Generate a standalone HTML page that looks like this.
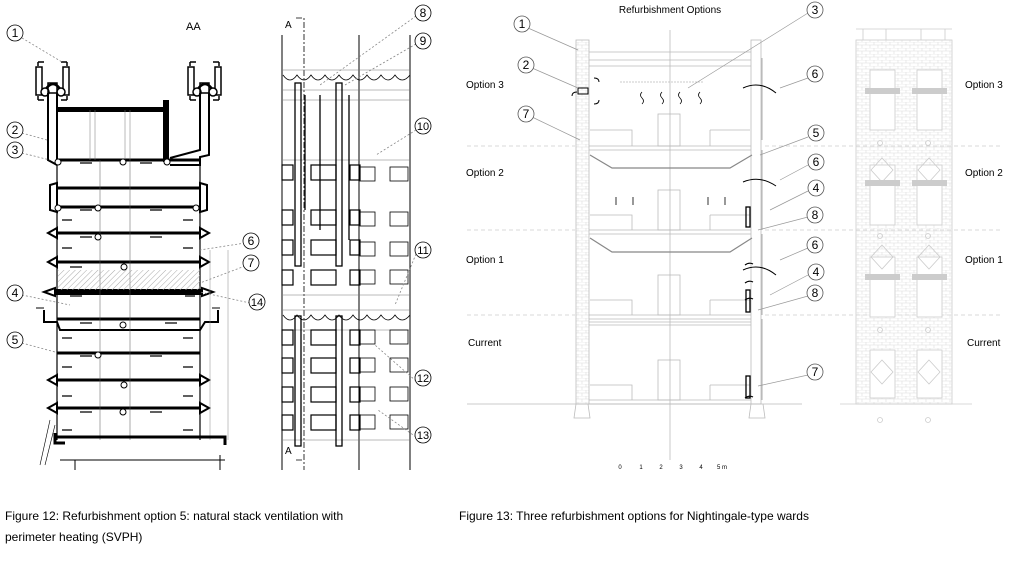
<!DOCTYPE html>
<html><head><meta charset="utf-8"><style>
html,body{margin:0;padding:0;background:#fff;width:1020px;height:581px;overflow:hidden}
svg{display:block}
text{font-family:"Liberation Sans",sans-serif}
</style></head><body>
<svg width="1020" height="581" viewBox="0 0 1020 581" xmlns="http://www.w3.org/2000/svg">
<defs>
<pattern id="hatch" width="4" height="4" patternUnits="userSpaceOnUse" patternTransform="rotate(45)"><line x1="0" y1="0" x2="0" y2="4" stroke="#aaa" stroke-width="1"/></pattern>
<pattern id="brick" width="8" height="6" patternUnits="userSpaceOnUse"><path d="M0 0H8M0 3H8M2 0V3M6 3V6" stroke="#ddd" stroke-width="0.6" fill="none"/></pattern>
</defs>

<!-- ============ FIGURE 12 LEFT SECTION ============ -->
<text x="186" y="30" font-size="11">AA</text>
<g stroke="#000" fill="none">
 <!-- stack heads -->
 <g stroke-width="1.5">
  <rect x="36" y="67" width="6" height="28"/><rect x="63" y="67" width="6" height="28"/>
  <rect x="188" y="67" width="6" height="28"/><rect x="215" y="67" width="6" height="28"/>
  <path d="M38 62H44M38 62V66M61 62H67M67 62V66M38 100H44M38 96V100M61 100H67M67 96V100"/>
  <path d="M190 62H196M190 62V66M213 62H219M219 62V66M190 100H196M190 96V100M213 100H219M219 96V100"/>
 </g>
 <path d="M44 92Q53 76 62 92" stroke-width="2.5"/><path d="M196 92Q205 76 214 92" stroke-width="2.5"/>
 <circle cx="45" cy="92" r="4" stroke-width="1.5" fill="#fff"/><circle cx="61" cy="92" r="4" stroke-width="1.5" fill="#fff"/>
 <circle cx="197" cy="92" r="4" stroke-width="1.5" fill="#fff"/><circle cx="213" cy="92" r="4" stroke-width="1.5" fill="#fff"/>
 <rect x="48" y="83" width="9" height="10" stroke-width="1.5"/><rect x="200" y="83" width="9" height="10" stroke-width="1.5"/>
 <!-- pipes -->
 <path d="M48 93V160L57 165M57 93V160" stroke-width="2"/>
 <path d="M200 93V150L170 158M209 93V155L200 157V165H170" stroke-width="2"/>
 <!-- top box -->
 <rect x="57" y="108" width="110" height="52" stroke-width="1.5"/>
 <path d="M57 109.5H165" stroke-width="5"/>
 <path d="M166 100V162" stroke-width="6"/>
 <path d="M57 160H200" stroke-width="3"/>
 <path d="M90 110V160M95 110V160M125 110V160M130 110V160" stroke-width="0.5" stroke="#777"/>
 <!-- floors -->
 <g stroke-width="3">
  <path d="M57 188H200M57 207H200M57 233H200M57 262H200M57 319H200M57 353H200M57 380H200M57 408H200"/>
 </g>
 <path d="M55 292H202" stroke-width="6"/>
 <path d="M44 310V322H57L60 330H200L205 322H218V310" stroke-width="2"/>
 <path d="M36 308H44M212 308H220" stroke-width="1"/>
 <!-- end caps -->
 <g stroke-width="2" fill="#fff">
  <path d="M50 185L57 183V212L50 210Z"/><path d="M207 185L200 183V212L207 210Z"/>
  <path d="M48 233L57 228V238Z"/><path d="M209 233L200 228V238Z"/>
  <path d="M48 262L57 257V267Z"/><path d="M209 262L200 257V267Z"/>
  <path d="M44 292L55 288V296Z"/><path d="M213 292L202 288V296Z"/>
  <path d="M48 380L57 375V385Z"/><path d="M209 380L200 375V385Z"/>
  <path d="M48 408L57 403V413Z"/><path d="M209 408L200 403V413Z"/>
 </g>
 <!-- verticals -->
 <path d="M57 160V440M200 160V440" stroke-width="1.2"/>
 <path d="M100 160V440M130 160V440" stroke-width="0.5" stroke="#555"/>
 <path d="M210 250V440M228 250V440" stroke-width="0.5" stroke="#888"/>
 <!-- short dashes -->
 <g stroke-width="1.2">
  <path d="M80 163H92M140 163H152M80 210H92M150 210H162M62 220H72M183 220H193M80 237H92M150 237H162M62 248H72M183 248H193M70 267H82M70 296H82M185 296H195M80 323H92M165 323H177M62 338H72M183 338H193M80 356H92M150 356H162M62 367H72M183 367H193M80 412H92M150 412H162M62 396H72M183 396H193M62 430H72M183 430H193"/>
 </g>
 <!-- base -->
 <path d="M55 437H225V445M55 433V443H65" stroke-width="3"/>
 <path d="M60 460H225M75 460V470M220 455V470" stroke-width="1"/>
 <path d="M40 465L50 420M45 465L55 425" stroke-width="0.6"/>
 <!-- small circles -->
 <g stroke-width="1" fill="#fff">
  <circle cx="58" cy="162" r="3"/><circle cx="123" cy="162" r="3"/><circle cx="167" cy="162" r="3"/>
  <circle cx="58" cy="208" r="3"/><circle cx="98" cy="208" r="3"/><circle cx="196" cy="208" r="3"/>
  <circle cx="98" cy="237" r="3"/><circle cx="124" cy="267" r="3"/><circle cx="123" cy="325" r="3"/>
  <circle cx="98" cy="355" r="3"/><circle cx="124" cy="385" r="3"/><circle cx="123" cy="412" r="3"/>
 </g>
</g>
<rect x="58" y="270" width="142" height="20" fill="url(#hatch)"/>

<!-- ============ FIGURE 12 RIGHT ELEVATION ============ -->
<g stroke="#000" fill="none" stroke-width="1">
 <path d="M282 35V470M359 35V470M410 35V470"/>
 <path d="M296 18H304V470M296 460H304" stroke-dasharray="6 2 2 2" stroke-width="0.8"/>
 <path d="M283 70H410M283 90H410M283 100H410M283 160H410M283 295H410M283 310H410M283 330H410M283 440H410" stroke-width="0.5" stroke="#777"/>
 <g stroke-width="1.3">
  <rect x="295" y="83" width="6" height="183"/><rect x="336" y="83" width="6" height="183"/>
  <rect x="295" y="316" width="6" height="130"/><rect x="336" y="316" width="6" height="130"/>
  <path d="M305 95V210M349 95V240M320 95V230"/>
 </g>
 <g stroke-width="1.2">
  <rect x="282" y="165" width="11" height="15"/><rect x="311" y="165" width="25" height="15"/><rect x="350" y="165" width="10" height="15"/>
  <rect x="282" y="210" width="11" height="15"/><rect x="311" y="210" width="25" height="15"/><rect x="350" y="210" width="10" height="15"/>
  <rect x="282" y="240" width="11" height="15"/><rect x="311" y="240" width="25" height="15"/><rect x="350" y="240" width="10" height="15"/>
  <rect x="282" y="270" width="11" height="15"/><rect x="311" y="270" width="25" height="15"/><rect x="350" y="270" width="10" height="15"/>
  <rect x="282" y="330" width="11" height="15"/><rect x="311" y="330" width="25" height="15"/><rect x="350" y="330" width="10" height="15"/>
  <rect x="282" y="358" width="11" height="15"/><rect x="311" y="358" width="25" height="15"/><rect x="350" y="358" width="10" height="15"/>
  <rect x="282" y="387" width="11" height="15"/><rect x="311" y="387" width="25" height="15"/><rect x="350" y="387" width="10" height="15"/>
  <rect x="282" y="415" width="11" height="15"/><rect x="311" y="415" width="25" height="15"/><rect x="350" y="415" width="10" height="15"/>
 </g>
 <g stroke-width="0.8">
  <rect x="360" y="167" width="15" height="14"/><rect x="390" y="167" width="18" height="14"/>
  <rect x="360" y="212" width="15" height="14"/><rect x="390" y="212" width="18" height="14"/>
  <rect x="360" y="242" width="15" height="14"/><rect x="390" y="242" width="18" height="14"/>
  <rect x="360" y="270" width="15" height="14"/><rect x="390" y="270" width="18" height="14"/>
  <rect x="360" y="330" width="15" height="14"/><rect x="390" y="330" width="18" height="14"/>
  <rect x="360" y="358" width="15" height="14"/><rect x="390" y="358" width="18" height="14"/>
  <rect x="360" y="387" width="15" height="14"/><rect x="390" y="387" width="18" height="14"/>
  <rect x="360" y="415" width="15" height="14"/><rect x="390" y="415" width="18" height="14"/>
 </g>
 <path d="M283 75Q290 85 297 75Q304 85 311 75Q318 85 325 75Q332 85 339 75Q346 85 353 75Q360 85 367 75Q374 85 381 75Q388 85 395 75Q402 85 410 75" stroke-width="0.8"/>
 <path d="M283 315Q290 325 297 315Q304 325 311 315Q318 325 325 315Q332 325 339 315Q346 325 353 315Q360 325 367 315Q374 325 381 315Q388 325 395 315Q402 325 410 315" stroke-width="0.8"/>
</g>
<text x="285" y="28" font-size="10">A</text>
<text x="285" y="454" font-size="10">A</text>

<g stroke="#888" stroke-dasharray="2 2" stroke-width="0.8" fill="none">
 <path d="M22 38L62 62M22 133L47 140M22 153L50 160M22 295L70 305M22 343L55 352M245 243L200 250M245 266L200 283M250 303L200 292M416 16L320 85M416 44L345 85M416 130L376 155M416 254L395 305M416 381L375 345M416 437L378 410"/>
</g>
<g font-size="12" text-anchor="middle" fill="#000">
 <g fill="#fff" stroke="#000" stroke-width="0.8">
  <circle cx="15" cy="33" r="8"/><circle cx="15" cy="130" r="8"/><circle cx="15" cy="150" r="8"/><circle cx="15" cy="293" r="8"/><circle cx="15" cy="340" r="8"/>
  <circle cx="251" cy="241" r="8"/><circle cx="251" cy="263" r="8"/><circle cx="257" cy="302" r="8"/>
  <circle cx="423" cy="13" r="8"/><circle cx="423" cy="41" r="8"/><circle cx="423" cy="126" r="8"/><circle cx="423" cy="250" r="8"/><circle cx="423" cy="378" r="8"/><circle cx="423" cy="435" r="8"/>
 </g>
 <text x="15" y="37">1</text><text x="15" y="134">2</text><text x="15" y="154">3</text><text x="15" y="297">4</text><text x="15" y="344">5</text>
 <text x="251" y="245">6</text><text x="251" y="267">7</text><text x="257" y="306" font-size="11">14</text>
 <text x="423" y="17">8</text><text x="423" y="45">9</text><text x="423" y="130" font-size="11">10</text><text x="423" y="254" font-size="11">11</text><text x="423" y="382" font-size="11">12</text><text x="423" y="439" font-size="11">13</text>
</g>

<!-- ============ FIGURE 13 ============ -->
<text x="670" y="13" font-size="10" text-anchor="middle">Refurbishment Options</text>
<g font-size="10">
 <text x="466" y="88">Option 3</text><text x="466" y="176">Option 2</text><text x="466" y="263">Option 1</text><text x="468" y="346">Current</text>
 <text x="965" y="88">Option 3</text><text x="965" y="176">Option 2</text><text x="965" y="263">Option 1</text><text x="967" y="346">Current</text>
</g>
<g stroke="#ccc" stroke-dasharray="4 3" stroke-width="0.7">
 <path d="M467 146H575M765 146H1000M467 230H575M765 230H1000M467 315H575M765 315H1000"/>
</g>
<g stroke="#bbb" fill="none" stroke-width="0.8">
 <rect x="576" y="40" width="13" height="364" fill="url(#brick)"/>
 <rect x="751" y="40" width="10" height="364"/>
 <path d="M589 52H751M589 60H751M589 66H751M589 146H751M589 150H751M589 230H751M589 234H751M589 315H751M589 319H751M589 322H751M589 325H751M589 400H751M589 404H751"/>
 <path d="M467 404H802M576 404L574 418H590L588 404M751 404L749 418H765L763 404M670 30V460" />
 <rect x="658" y="114" width="22" height="32"/><rect x="658" y="190" width="22" height="40"/><rect x="658" y="275" width="22" height="40"/><rect x="658" y="360" width="22" height="40"/>
 <path d="M590 130H632V146M710 130H750M710 130V146M590 215H632V230M710 215H750M710 215V230M590 300H632V315M710 300H750M710 300V315M590 385H632V400M710 385H750M710 385V400"/>
 <path d="M590 155L612 168H730L752 155M590 238L612 252H730L752 238" stroke="#888" stroke-width="1.2"/>
 <path d="M620 82H703" stroke-dasharray="2 1"/>
 <path d="M762 58V140M762 150V230M762 234V315M762 319V400" stroke="#999"/>
</g>
<g stroke="#000" fill="none" stroke-width="1">
 <path d="M642 92q-3 3 0 6q3 3 0 6M662 92q-3 3 0 6q3 3 0 6M680 92q-3 3 0 6q3 3 0 6M700 92q-3 3 0 6q3 3 0 6" stroke-width="0.8"/>
 <rect x="578" y="88" width="10" height="6"/>
 <path d="M594 78q5 0 5 4M594 104q5 0 5-4M572 96q0-4 5-4"/>
 <path d="M743 88Q760 80 776 93M743 182Q760 175 776 186M743 270Q760 262 776 275" stroke-width="1"/>
 <path d="M616 197v8M633 197v8M708 197v8M725 197v8" stroke-width="0.8"/>
 <path d="M745 265q4-3 8-1M745 283q4-3 8-1M745 300q4-3 8-1M745 398q4-3 8-1" stroke-width="1.2"/>
</g>
<g stroke="#000" fill="none" stroke-width="1.3">
 <rect x="746" y="207" width="4" height="20"/><rect x="746" y="290" width="4" height="22"/><rect x="746" y="376" width="4" height="22"/>
</g>
<!-- elevation -->
<g stroke="#ccc" fill="none" stroke-width="0.8">
 <path d="M856 29H952M863 29V40M886 29V40M921 29V40M945 29V40"/>
 <rect x="856" y="40" width="96" height="364" fill="url(#brick)"/>
 <path d="M840 404H972"/>
 <rect x="870" y="70" width="25" height="60" fill="#fff"/><rect x="917" y="70" width="25" height="60" fill="#fff"/>
 <rect x="870" y="165" width="25" height="60" fill="#fff"/><rect x="917" y="165" width="25" height="60" fill="#fff"/>
 <rect x="870" y="257" width="25" height="60" fill="#fff"/><rect x="917" y="257" width="25" height="60" fill="#fff"/>
 <rect x="870" y="350" width="25" height="48" fill="#fff"/><rect x="917" y="350" width="25" height="48" fill="#fff"/>
 <path d="M882 158L893 170L882 182L871 170ZM929 158L940 170L929 182L918 170ZM882 245L893 257L882 269L871 257ZM929 245L940 257L929 269L918 257ZM882 360L893 372L882 384L871 372ZM929 360L940 372L929 384L918 372Z"/>
 <circle cx="880" cy="143" r="2.5"/><circle cx="928" cy="143" r="2.5"/><circle cx="880" cy="236" r="2.5"/><circle cx="928" cy="236" r="2.5"/><circle cx="880" cy="330" r="2.5"/><circle cx="928" cy="330" r="2.5"/><circle cx="880" cy="420" r="2.5"/><circle cx="928" cy="420" r="2.5"/>
</g>
<g fill="#ccc"><rect x="865" y="88" width="35" height="6"/><rect x="912" y="88" width="35" height="6"/><rect x="865" y="180" width="35" height="6"/><rect x="912" y="180" width="35" height="6"/><rect x="865" y="274" width="35" height="6"/><rect x="912" y="274" width="35" height="6"/></g>
<g stroke="#999" stroke-width="0.7" fill="none">
 <path d="M528 28L578 50M532 68L578 88M808 13L688 88M808 78L780 88M532 117L580 140M808 137L760 155M808 165L780 180M808 191L770 210M808 217L758 230M808 248L780 260M808 275L770 295M808 296L758 310M808 375L758 386"/>
</g>
<g font-size="12" text-anchor="middle">
 <g fill="#fff" stroke="#555" stroke-width="0.8">
  <circle cx="522" cy="24" r="8"/><circle cx="526" cy="65" r="8"/><circle cx="526" cy="114" r="8"/>
  <circle cx="815" cy="10" r="8"/><circle cx="815" cy="74" r="8"/><circle cx="816" cy="133" r="8"/><circle cx="816" cy="162" r="8"/><circle cx="816" cy="188" r="8"/><circle cx="815" cy="215" r="8"/><circle cx="815" cy="245" r="8"/><circle cx="816" cy="272" r="8"/><circle cx="815" cy="293" r="8"/><circle cx="815" cy="372" r="8"/>
 </g>
 <text x="522" y="28">1</text><text x="526" y="69">2</text><text x="526" y="118">7</text>
 <text x="815" y="14">3</text><text x="815" y="78">6</text><text x="816" y="137">5</text><text x="816" y="166">6</text><text x="816" y="192">4</text><text x="815" y="219">8</text><text x="815" y="249">6</text><text x="816" y="276">4</text><text x="815" y="297">8</text><text x="815" y="376">7</text>
</g>
<g font-size="6" text-anchor="middle"><text x="620" y="469">0</text><text x="641" y="469">1</text><text x="661" y="469">2</text><text x="681" y="469">3</text><text x="701" y="469">4</text><text x="722" y="469">5 m</text></g>

<g font-size="12">
 <text x="5" y="520">Figure 12: Refurbishment option 5: natural stack ventilation with</text>
 <text x="5" y="541">perimeter heating (SVPH)</text>
 <text x="459" y="520">Figure 13: Three refurbishment options for Nightingale-type wards</text>
</g>
</svg>
</body></html>
